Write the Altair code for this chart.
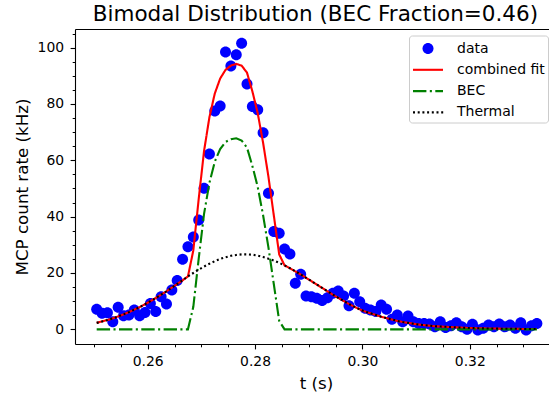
import altair as alt
import pandas as pd

# sample times (ms)
t_ms = [250.5, 251.5, 252.5, 253.5, 254.5, 255.5, 256.5, 257.5, 258.5, 259.5,
        260.5, 261.5, 262.5, 263.5, 264.5, 265.5, 266.5, 267.5, 268.5, 269.5,
        270.5, 271.5, 272.5, 273.5, 274.5, 275.5, 276.5, 277.5, 278.5, 279.5,
        280.5, 281.5, 282.5, 283.5, 284.5, 285.5, 286.5, 287.5, 288.5, 289.5,
        290.5, 291.5, 292.5, 293.5, 294.5, 295.5, 296.5, 297.5, 298.5, 299.5,
        300.5, 301.5, 302.5, 303.5, 304.5, 305.5, 306.5, 307.5, 308.5, 309.5,
        310.5, 311.5, 312.5, 313.5, 314.5, 315.5, 316.5, 317.5, 318.5, 319.5,
        320.5, 321.5, 322.5, 323.5, 324.5, 325.5, 326.5, 327.5, 328.5, 329.5,
        330.5, 331.5, 332.5]

data_rate = [7.1, 5.7, 5.9, 2.7, 7.8, 4.8, 5.1, 6.9, 4.8, 6.0,
             9.2, 6.3, 11.6, 9.0, 14.0, 17.3, 24.9, 29.3, 32.8, 38.8,
             50.1, 62.2, 77.5, 79.3, 98.4, 93.5, 97.5, 101.5, 87.1, 79.1,
             77.9, 69.8, 48.3, 34.7, 34.1, 28.5, 26.7, 16.4, 19.6, 11.8,
             11.6, 11.0, 10.2, 11.2, 12.8, 13.6, 11.8, 8.4, 12.8, 9.8,
             7.5, 6.9, 6.3, 8.6, 7.1, 3.6, 5.1, 2.7, 4.7, 2.7,
             2.1, 2.1, 1.9, 0.9, 2.7, 0.7, 1.3, 2.3, 0.9, 0.0,
             1.8, -0.2, 0.4, 1.5, 0.9, 1.9, 0.9, 1.5, 0.4, 2.3,
             -0.2, 1.3, 2.1]

thermal_fit = [2.3, 2.8, 3.3, 3.9, 4.6, 5.3, 6.1, 7.0, 7.9, 8.9,
               10.0, 11.1, 12.3, 13.5, 14.8, 16.1, 17.4, 18.8, 20.0, 21.2,
               22.3, 23.3, 24.2, 25.0, 25.6, 26.1, 26.4, 26.6, 26.6, 26.5,
               26.2, 25.7, 25.1, 24.4, 23.6, 22.7, 21.7, 20.6, 19.5, 18.3,
               17.1, 15.9, 14.7, 13.5, 12.3, 11.2, 10.1, 9.0, 8.0, 7.1,
               6.3, 5.7, 5.1, 4.5, 4.0, 3.5, 3.0, 2.6, 2.3, 2.0,
               1.7, 1.5, 1.3, 1.1, 1.0, 0.9, 0.8, 0.7, 0.6, 0.5,
               0.45, 0.4, 0.35, 0.3, 0.3, 0.25, 0.2, 0.2, 0.2, 0.15,
               0.15, 0.1, 0.1]

bec_fit = [0, 0, 0, 0, 0, 0, 0, 0, 0, 0,
           0, 0, 0, 0, 0, 0, 0, 0, 8.0, 25.0,
           41.0, 52.0, 59.5, 64.0, 66.5, 67.5, 67.8, 67.0, 64.5, 58.0,
           50.5, 40.5, 29.0, 16.0, 3.0, 0, 0, 0, 0, 0,
           0, 0, 0, 0, 0, 0, 0, 0, 0, 0,
           0, 0, 0, 0, 0, 0, 0, 0, 0, 0,
           0, 0, 0, 0, 0, 0, 0, 0, 0, 0,
           0, 0, 0, 0, 0, 0, 0, 0, 0, 0,
           0, 0, 0]

combined_fit = [2.3, 2.8, 3.3, 3.9, 4.6, 5.3, 6.1, 7.0, 7.9, 8.9,
                10.0, 11.1, 12.3, 13.5, 14.8, 16.1, 17.4, 18.8, 28.0, 46.2,
                63.3, 75.3, 83.7, 89.0, 92.1, 93.6, 94.2, 93.6, 91.1, 84.5,
                76.7, 66.2, 54.1, 40.4, 26.6, 22.7, 21.7, 20.6, 19.5, 18.3,
                17.1, 15.9, 14.7, 13.5, 12.3, 11.2, 10.1, 9.0, 8.0, 7.1,
                6.3, 5.7, 5.1, 4.5, 4.0, 3.5, 3.0, 2.6, 2.3, 2.0,
                1.7, 1.5, 1.3, 1.1, 1.0, 0.9, 0.8, 0.7, 0.6, 0.5,
                0.45, 0.4, 0.35, 0.3, 0.3, 0.25, 0.2, 0.2, 0.2, 0.15,
                0.15, 0.1, 0.1]

series_names = ["data", "combined fit", "BEC", "Thermal"]
series_colors = ["#0000ff", "#ff0000", "#008000", "#000000"]
x_major = [0.26, 0.28, 0.30, 0.32]
x_minor = [0.25, 0.255, 0.26, 0.265, 0.27, 0.275, 0.28, 0.285, 0.29, 0.295,
           0.30, 0.305, 0.31, 0.315, 0.32, 0.325, 0.33]
y_major = [0, 20, 40, 60, 80, 100]
y_minor = [0, 5, 10, 15, 20, 25, 30, 35, 40, 45, 50, 55, 60, 65, 70, 75,
           80, 85, 90, 95, 100, 105]

t_s = [v / 1000.0 for v in t_ms]
df_points = pd.DataFrame({"t": t_s, "rate": data_rate, "series": "data"})
df_fits = pd.concat([
    pd.DataFrame({"t": t_s, "rate": combined_fit, "series": "combined fit"}),
    pd.DataFrame({"t": t_s, "rate": bec_fit, "series": "BEC"}),
])
df_thermal = pd.DataFrame({"t": t_s, "rate": thermal_fit, "series": "Thermal"})

# legend / marker glyphs: unit paths scaled by sqrt(size)/2 = 10 px per unit
SYM = 400
H = 0.105  # half line thickness (units)
circle_path = "M-0.55,0A0.55,0.55,0,1,1,0.55,0A0.55,0.55,0,1,1,-0.55,0Z"


def bar(a, b):
    return f"M{a:.3f},{-H}L{b:.3f},{-H}L{b:.3f},{H}L{a:.3f},{H}Z"


solid_path = bar(-1.5, 1.5)
dashdot_path = " ".join([bar(-1.5, -0.16), bar(0.18, 0.39), bar(0.73, 1.5)])
dotted_path = " ".join([bar(-1.5 + k * 0.47, -1.5 + k * 0.47 + 0.2) for k in range(7)])

XDOM = [0.24646, 0.33476]
YDOM = [-5.2, 106.6]
FONT = "DejaVu Sans"

x_scale = alt.Scale(domain=XDOM, nice=False, zero=False)
y_scale = alt.Scale(domain=YDOM, nice=False, zero=False)

color_scale = alt.Scale(domain=series_names, range=series_colors)
shape_scale = alt.Scale(domain=series_names,
                        range=[circle_path, solid_path, dashdot_path, dotted_path])
dash_scale = alt.Scale(domain=series_names,
                       range=[[1, 0], [1, 0], [13.4, 3.4, 2.1, 3.4], [2, 2.7]])

legend = alt.Legend(title=None, orient="none", legendX=334, legendY=6.5,
                    labelFontSize=14, labelFont=FONT, labelColor="black",
                    symbolSize=SYM, symbolStrokeWidth=0, symbolOpacity=1,
                    padding=3, rowPadding=4.3, labelOffset=19, symbolOffset=6,
                    fillColor="white", strokeColor="#cccccc", cornerRadius=3,
                    labelLimit=300)

x_axis_major = alt.Axis(orient="bottom", values=x_major, format=".2f",
                        labelFont=FONT, labelFontSize=13.9, labelColor="black",
                        labelPadding=6, tickSize=4.9, tickWidth=1.1, tickColor="black",
                        domainColor="black", domainWidth=1.1, grid=False,
                        labelFlush=False,
                        title="t (s)", titleFont=FONT, titleFontSize=16.7,
                        titleFontWeight="normal", titleColor="black",
                        titleX=241, titleY=44, titleBaseline="alphabetic",
                        titleAlign="center")
y_axis_major = alt.Axis(orient="left", values=y_major, format="d",
                        labelFont=FONT, labelFontSize=13.9, labelColor="black",
                        labelPadding=6.5, tickSize=4.9, tickWidth=1.1, tickColor="black",
                        domainColor="black", domainWidth=1.1, grid=False,
                        labelFlush=False,
                        title="MCP count rate (kHz)", titleFont=FONT,
                        titleFontSize=16.7, titleFontWeight="normal",
                        titleColor="black", titleX=-47.8, titleY=157.5,
                        titleBaseline="alphabetic", titleAlign="center",
                        titleAngle=270)
x_axis_minor = alt.Axis(orient="bottom", values=x_minor, labels=False,
                        tickSize=2.8, tickWidth=1, tickColor="black",
                        domain=False, grid=False, title=None)
y_axis_minor = alt.Axis(orient="left", values=y_minor, labels=False,
                        tickSize=2.8, tickWidth=1, tickColor="black",
                        domain=False, grid=False, title=None)
x_axis_top = alt.Axis(orient="top", labels=False, ticks=False, domain=True,
                      domainColor="black", domainWidth=1.1, grid=False, title=None)

points = alt.Chart(df_points).mark_point(filled=True, size=SYM, opacity=1,
                                         strokeWidth=0).encode(
    x=alt.X("t:Q", scale=x_scale, axis=x_axis_major),
    y=alt.Y("rate:Q", scale=y_scale, axis=y_axis_major),
    color=alt.Color("series:N", scale=color_scale, legend=legend),
    shape=alt.Shape("series:N", scale=shape_scale, legend=legend),
)

fits = alt.Chart(df_fits).mark_line(strokeWidth=2.1, strokeCap="butt").encode(
    x=alt.X("t:Q", scale=x_scale, axis=x_axis_minor),
    y=alt.Y("rate:Q", scale=y_scale, axis=y_axis_minor),
    stroke=alt.Stroke("series:N", scale=color_scale, legend=None),
    strokeDash=alt.StrokeDash("series:N", scale=dash_scale, legend=None),
    detail="series:N",
)

thermal = alt.Chart(df_thermal).mark_line(strokeWidth=2.1, strokeCap="butt").encode(
    x=alt.X("t:Q", scale=x_scale, axis=x_axis_top),
    y=alt.Y("rate:Q", scale=y_scale, axis=None),
    stroke=alt.Stroke("series:N", scale=color_scale, legend=None),
    strokeDash=alt.StrokeDash("series:N", scale=dash_scale, legend=None),
)

chart = alt.layer(points, fits, thermal).resolve_axis(
    x="independent", y="independent"
).properties(
    width=474, height=315,
    autosize=alt.AutoSizeParams(type="none"),
    padding={"left": 75, "top": 29, "right": 0, "bottom": 49},
    title=alt.TitleParams("Bimodal Distribution (BEC Fraction=0.46)",
                          font=FONT, fontSize=21.5, fontWeight="normal",
                          color="black", anchor="middle", frame="group",
                          dx=3.4, dy=21, offset=8, baseline="alphabetic"),
).configure_view(stroke=None).configure(background="white")

chart.save("out.html", embed_options={"renderer": "svg", "actions": False})
